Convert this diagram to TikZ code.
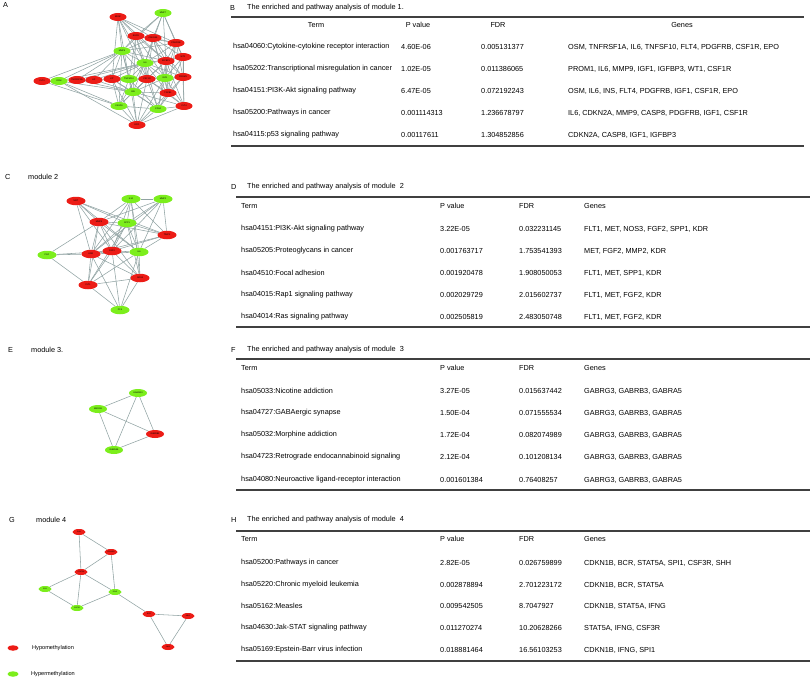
\documentclass[tikz,border=0pt]{standalone}
\usepackage{fontspec}
\setmainfont{Liberation Sans}
\usetikzlibrary{shapes.geometric}

\definecolor{hypored}{RGB}{236,28,22}
\definecolor{hypergreen}{RGB}{124,238,28}
\definecolor{edgegray}{RGB}{145,163,163}

\pgfdeclarelayer{bg}
\pgfsetlayers{bg,main}

\begin{document}
\begin{tikzpicture}[
  x=1pt, y=-1pt,
  gene/.style={ellipse, minimum width=17pt, minimum height=8pt, inner sep=0pt,
    font=\fontsize{2.2}{2.4}\selectfont},
  hypo/.style={gene, fill=hypored},
  hyper/.style={gene, fill=hypergreen},
  link/.style={draw=edgegray, line width=0.55pt},
  txt/.style={anchor=west, inner sep=0pt, font=\fontsize{7.3}{8.5}\selectfont},
  head/.style={txt, anchor=center},
  rule/.style={line width=1.1pt, draw=black!75},
]
\useasboundingbox (0,0) rectangle (810,679);

% panel labels
\node[txt] (labA) at (3,5) {A};
\node[txt] (labC) at (5,177) {C};
\node[txt] (modC) at (28,177) {module 2};
\node[txt] (labE) at (8,350) {E};
\node[txt] (modE) at (31,350) {module 3.};
\node[txt] (labG) at (9,520) {G};
\node[txt] (modG) at (36,520) {module 4};

% module 1
\node[hypo]  (bdnf)   at (118,17)  {BDNF};
\node[hyper] (mmp7)   at (163,13)  {MMP7};
\node[hypo]  (egfr)   at (136,36)  {EGFR};
\node[hypo]  (cdkn2a) at (153,38)  {CDKN2A};
\node[hypo]  (pdgfrb) at (176,43)  {PDGFRB};
\node[hyper] (mmp9)   at (122,51)  {MMP9};
\node[hypo]  (wt1)    at (183,57)  {WT1};
\node[hyper] (il6)    at (145,63)  {IL6};
\node[hypo]  (igfbp3) at (166,61)  {IGFBP3};
\node[hypo]  (flt3)   at (42,81)   {FLT3};
\node[hyper] (osm)    at (59,81)   {OSM};
\node[hypo]  (tnfrsf) at (77,80)   {TNFRSF1A};
\node[hypo]  (lif)    at (94,80)   {LIF};
\node[hypo]  (kit)    at (112,79)  {KIT};
\node[hyper] (tnfsf)  at (129,79)  {TNFSF10};
\node[hypo]  (csf1r)  at (147,79)  {CSF1R};
\node[hyper] (igf1)   at (165,78)  {IGF1};
\node[hypo]  (prom1)  at (183,77)  {PROM1};
\node[hyper] (ins)    at (133,92)  {INS};
\node[hypo]  (tgfb1)  at (168,93)  {TGFB1};
\node[hyper] (casp8)  at (119,106) {CASP8};
\node[hyper] (cd34)   at (158,109) {CD34};
\node[hypo]  (flt4)   at (184,106) {FLT4};
\node[hypo]  (epo)    at (137,125) {EPO};

\begin{pgfonlayer}{bg}
\foreach \a/\b in {bdnf/egfr, bdnf/cdkn2a, bdnf/mmp9, bdnf/il6, bdnf/igfbp3, bdnf/csf1r, bdnf/tnfsf, bdnf/kit, bdnf/pdgfrb,
  mmp7/egfr, mmp7/cdkn2a, mmp7/pdgfrb, mmp7/il6, mmp7/igfbp3, mmp7/wt1, mmp7/mmp9,
  egfr/cdkn2a, egfr/mmp9, egfr/il6, egfr/igfbp3, egfr/pdgfrb, egfr/csf1r, egfr/ins, egfr/tnfsf, egfr/igf1,
  cdkn2a/pdgfrb, cdkn2a/il6, cdkn2a/igfbp3, cdkn2a/wt1, cdkn2a/igf1, cdkn2a/csf1r, cdkn2a/tgfb1, cdkn2a/mmp9, cdkn2a/prom1,
  pdgfrb/igfbp3, pdgfrb/wt1, pdgfrb/il6, pdgfrb/igf1, pdgfrb/prom1, pdgfrb/tgfb1, pdgfrb/mmp9,
  mmp9/il6, mmp9/igfbp3, mmp9/kit, mmp9/tnfsf, mmp9/csf1r, mmp9/ins, mmp9/lif, mmp9/tnfrsf, mmp9/flt3, mmp9/osm, mmp9/casp8,
  wt1/igfbp3, wt1/prom1, wt1/igf1, wt1/il6, wt1/tgfb1, wt1/flt4,
  il6/igfbp3, il6/kit, il6/tnfsf, il6/csf1r, il6/igf1, il6/prom1, il6/ins, il6/tgfb1, il6/casp8, il6/cd34, il6/lif, il6/tnfrsf, il6/osm,
  igfbp3/igf1, igfbp3/prom1, igfbp3/csf1r, igfbp3/tgfb1, igfbp3/ins, igfbp3/cd34, igfbp3/flt4,
  flt3/osm, flt3/casp8, osm/tnfrsf, osm/casp8, osm/ins, osm/epo,
  tnfrsf/lif, tnfrsf/ins, lif/kit, lif/ins, lif/csf1r, kit/tnfsf, kit/ins, kit/casp8, kit/epo, kit/cd34,
  tnfsf/csf1r, tnfsf/ins, tnfsf/casp8, tnfsf/epo, tnfsf/cd34, tnfsf/igf1,
  csf1r/igf1, csf1r/ins, csf1r/tgfb1, csf1r/cd34, csf1r/epo, csf1r/flt4, csf1r/casp8,
  igf1/prom1, igf1/ins, igf1/tgfb1, igf1/cd34, igf1/flt4, igf1/epo,
  prom1/tgfb1, prom1/flt4, prom1/cd34,
  ins/tgfb1, ins/casp8, ins/cd34, ins/epo, ins/flt4,
  tgfb1/cd34, tgfb1/flt4, tgfb1/epo, casp8/epo, casp8/cd34, cd34/epo, cd34/flt4, flt4/epo}
  \draw[link] (\a) -- (\b);
\end{pgfonlayer}

% module 2
\begin{scope}[gene/.append style={minimum width=19pt, minimum height=8.5pt}]
\node[hypo]  (met)   at (76,201)  {MET};
\node[hyper] (il10)  at (131,199) {IL10};
\node[hyper] (mmp2)  at (163,199) {MMP2};
\node[hypo]  (mmp9b) at (99,222)  {MMP9};
\node[hyper] (spp1)  at (127,223) {SPP1};
\node[hypo]  (timp2) at (167,235) {TIMP2};
\node[hyper] (pgf)   at (47,255)  {PGF};
\node[hypo]  (kdr)   at (91,254)  {KDR};
\node[hypo]  (fgf2)  at (112,251) {FGF2};
\node[hyper] (il6b)  at (139,252) {IL6};
\node[hypo]  (nos3)  at (140,278) {NOS3};
\node[hypo]  (flt1)  at (88,285)  {FLT1};
\node[hyper] (pf4)   at (120,310) {PF4};
\end{scope}

\begin{pgfonlayer}{bg}
\foreach \a/\b in {met/mmp9b, met/spp1, met/kdr, met/fgf2, met/il6b, met/timp2,
  il10/mmp2, il10/spp1, il10/mmp9b, il10/fgf2, il10/kdr, il10/timp2, il10/il6b, il10/nos3,
  mmp2/spp1, mmp2/timp2, mmp2/il6b, mmp2/fgf2, mmp2/kdr, mmp2/mmp9b,
  mmp9b/spp1, mmp9b/kdr, mmp9b/fgf2, mmp9b/il6b, mmp9b/timp2, mmp9b/nos3, mmp9b/flt1,
  spp1/timp2, spp1/fgf2, spp1/kdr, spp1/il6b, spp1/nos3, spp1/flt1,
  timp2/il6b, timp2/fgf2, timp2/kdr,
  pgf/kdr, pgf/mmp9b, pgf/flt1, pgf/fgf2,
  kdr/fgf2, kdr/flt1, kdr/nos3, kdr/pf4, kdr/il6b,
  fgf2/il6b, fgf2/nos3, fgf2/flt1, fgf2/pf4,
  il6b/nos3, il6b/flt1, il6b/pf4, nos3/flt1, nos3/pf4, flt1/pf4}
  \draw[link] (\a) -- (\b);
\end{pgfonlayer}

% module 3
\begin{scope}[gene/.append style={minimum width=18pt}]
\node[hyper] (gabrg3) at (138,393) {GABRG3};
\node[hyper] (mkrn3)  at (98,409)  {MKRN3};
\node[hypo]  (gabrb3) at (155,434) {GABRB3};
\node[hyper] (gabra5) at (114,450) {GABRA5};
\end{scope}

\begin{pgfonlayer}{bg}
\foreach \a/\b in {gabrg3/mkrn3, gabrg3/gabrb3, gabrg3/gabra5, mkrn3/gabrb3, mkrn3/gabra5, gabrb3/gabra5}
  \draw[link] (\a) -- (\b);
\end{pgfonlayer}

% module 4
\begin{scope}[gene/.append style={minimum width=13pt, minimum height=6pt, font=\fontsize{1.8}{2}\selectfont}]
\node[hypo]  (shh)    at (79,532)  {SHH};
\node[hypo]  (cdkn1b) at (111,552) {CDKN1B};
\node[hypo]  (stat5a) at (81,572)  {STAT5A};
\node[hyper] (spi1)   at (45,589)  {SPI1};
\node[hyper] (ifng)   at (115,592) {IFNG};
\node[hyper] (csf3r)  at (77,608)  {CSF3R};
\node[hypo]  (bcr)    at (149,614) {BCR};
\node[hypo]  (abl1)   at (188,616) {ABL1};
\node[hypo]  (jak2)   at (168,647) {JAK2};
\end{scope}

\begin{pgfonlayer}{bg}
\foreach \a/\b in {shh/cdkn1b, shh/stat5a, cdkn1b/stat5a, cdkn1b/ifng, stat5a/spi1, stat5a/csf3r, stat5a/ifng,
  spi1/csf3r, csf3r/ifng, ifng/bcr, bcr/abl1, bcr/jak2, abl1/jak2}
  \draw[link] (\a) -- (\b);
\end{pgfonlayer}

% legend
\node[hypo, minimum width=11pt, minimum height=5.5pt] (keyhypo) at (13,648) {};
\node[txt, font=\fontsize{5.6}{6}\selectfont] (keyhypotxt) at (32,648) {Hypomethylation};
\node[hyper, minimum width=11pt, minimum height=5.5pt] (keyhyper) at (13,674) {};
\node[txt, font=\fontsize{5.6}{6}\selectfont] (keyhypertxt) at (31,674) {Hypermethylation};

% table B
\node[txt] (labB) at (230,8) {B};
\node[txt] (titB) at (247,8) {The enriched and pathway analysis of module 1.};
\draw[rule] (231,17) -- (804,17);
\node[head] (hB1) at (316,25) {Term};
\node[head] (hB2) at (418,25) {P value};
\node[head] (hB3) at (498,25) {FDR};
\node[head] (hB4) at (682,25) {Genes};
\foreach \y/\t/\p/\f/\g [count=\i] in {
  47/{hsa04060:Cytokine-cytokine receptor interaction}/{4.60E-06}/{0.005131377}/{OSM, TNFRSF1A, IL6, TNFSF10, FLT4, PDGFRB, CSF1R, EPO},
  69/{hsa05202:Transcriptional misregulation in cancer}/{1.02E-05}/{0.011386065}/{PROM1, IL6, MMP9, IGF1, IGFBP3, WT1, CSF1R},
  91/{hsa04151:PI3K-Akt signaling pathway}/{6.47E-05}/{0.072192243}/{OSM, IL6, INS, FLT4, PDGFRB, IGF1, CSF1R, EPO},
  113/{hsa05200:Pathways in cancer}/{0.001114313}/{1.236678797}/{IL6, CDKN2A, MMP9, CASP8, PDGFRB, IGF1, CSF1R},
  135/{hsa04115:p53 signaling pathway}/{0.00117611}/{1.304852856}/{CDKN2A, CASP8, IGF1, IGFBP3}}{
  \node[txt] (B\i t) at (233,\y) {\t};
  \node[txt] (B\i p) at (401,\y) {\p};
  \node[txt] (B\i f) at (481,\y) {\f};
  \node[txt] (B\i g) at (568,\y) {\g};
}
\draw[rule] (231,146) -- (804,146);

% table D
\node[txt] (labD) at (231,187) {D};
\node[txt] (titD) at (247,187) {The enriched and pathway analysis of module\ \ 2};
\draw[rule] (236,197) -- (810,197);
\node[txt] (hD1) at (241,206) {Term};
\node[txt] (hD2) at (440,206) {P value};
\node[txt] (hD3) at (519,206) {FDR};
\node[txt] (hD4) at (584,206) {Genes};
\foreach \y/\t/\p/\f/\g [count=\i] in {
  229/{hsa04151:PI3K-Akt signaling pathway}/{3.22E-05}/{0.032231145}/{FLT1, MET, NOS3, FGF2, SPP1, KDR},
  251/{hsa05205:Proteoglycans in cancer}/{0.001763717}/{1.753541393}/{MET, FGF2, MMP2, KDR},
  273/{hsa04510:Focal adhesion}/{0.001920478}/{1.908050053}/{FLT1, MET, SPP1, KDR},
  295/{hsa04015:Rap1 signaling pathway}/{0.002029729}/{2.015602737}/{FLT1, MET, FGF2, KDR},
  317/{hsa04014:Ras signaling pathway}/{0.002505819}/{2.483050748}/{FLT1, MET, FGF2, KDR}}{
  \node[txt] (D\i t) at (241,\y) {\t};
  \node[txt] (D\i p) at (440,\y) {\p};
  \node[txt] (D\i f) at (519,\y) {\f};
  \node[txt] (D\i g) at (584,\y) {\g};
}
\draw[rule] (236,327) -- (810,327);

% table F
\node[txt] (labF) at (231,350) {F};
\node[txt] (titF) at (247,350) {The enriched and pathway analysis of module\ \ 3};
\draw[rule] (236,359) -- (810,359);
\node[txt] (hF1) at (241,368) {Term};
\node[txt] (hF2) at (440,368) {P value};
\node[txt] (hF3) at (519,368) {FDR};
\node[txt] (hF4) at (584,368) {Genes};
\foreach \y/\t/\p/\f [count=\i] in {
  391/{hsa05033:Nicotine addiction}/{3.27E-05}/{0.015637442},
  413/{hsa04727:GABAergic synapse}/{1.50E-04}/{0.071555534},
  435/{hsa05032:Morphine addiction}/{1.72E-04}/{0.082074989},
  457/{hsa04723:Retrograde endocannabinoid signaling}/{2.12E-04}/{0.101208134},
  480/{hsa04080:Neuroactive ligand-receptor interaction}/{0.001601384}/{0.76408257}}{
  \node[txt] (F\i t) at (241,\y) {\t};
  \node[txt] (F\i p) at (440,\y) {\p};
  \node[txt] (F\i f) at (519,\y) {\f};
  \node[txt] (F\i g) at (584,\y) {GABRG3, GABRB3, GABRA5};
}
\draw[rule] (236,490) -- (810,490);

% table H
\node[txt] (labH) at (231,520) {H};
\node[txt] (titH) at (247,520) {The enriched and pathway analysis of module\ \ 4};
\draw[rule] (236,531) -- (810,531);
\node[txt] (hH1) at (241,539) {Term};
\node[txt] (hH2) at (440,539) {P value};
\node[txt] (hH3) at (519,539) {FDR};
\node[txt] (hH4) at (584,539) {Genes};
\foreach \y/\t/\p/\f/\g [count=\i] in {
  563/{hsa05200:Pathways in cancer}/{2.82E-05}/{0.026759899}/{CDKN1B, BCR, STAT5A, SPI1, CSF3R, SHH},
  585/{hsa05220:Chronic myeloid leukemia}/{0.002878894}/{2.701223172}/{CDKN1B, BCR, STAT5A},
  606/{hsa05162:Measles}/{0.009542505}/{8.7047927}/{CDKN1B, STAT5A, IFNG},
  628/{hsa04630:Jak-STAT signaling pathway}/{0.011270274}/{10.20628266}/{STAT5A, IFNG, CSF3R},
  650/{hsa05169:Epstein-Barr virus infection}/{0.018881464}/{16.56103253}/{CDKN1B, IFNG, SPI1}}{
  \node[txt] (H\i t) at (241,\y) {\t};
  \node[txt] (H\i p) at (440,\y) {\p};
  \node[txt] (H\i f) at (519,\y) {\f};
  \node[txt] (H\i g) at (584,\y) {\g};
}
\draw[rule] (236,661) -- (810,661);
\end{tikzpicture}
\end{document}
